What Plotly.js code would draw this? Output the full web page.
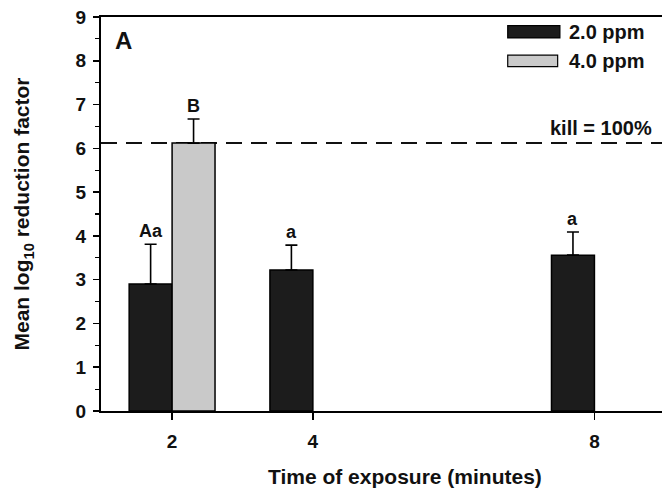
<!DOCTYPE html>
<html>
<head>
<meta charset="utf-8">
<script src="https://cdn.plot.ly/plotly-3.0.1.min.js"></script>
<style>html,body{margin:0;padding:0;overflow:hidden;background:#fff}#chart{width:662px;height:490px}</style>
</head>
<body>
<div id="chart"></div>
<script>
// Data
var times = [2, 4, 8];
var ppm2Values = [2.9, 3.22, 3.56];
var ppm2Errors = [0.91, 0.57, 0.53];
var ppm2Letters = ['Aa', 'a', 'a'];
var ppm4Times = [2];
var ppm4Values = [6.12];
var ppm4Errors = [0.55];
var ppm4Letters = ['B'];
var killLevel = 6.12;
var seriesNames = ['2.0 ppm', '4.0 ppm'];
var xTickVals = [2, 4, 8];
var yTickVals = [0, 1, 2, 3, 4, 5, 6, 7, 8, 9];

var barW = 0.61;
var fam = 'Liberation Sans, Arial, sans-serif';
function F(sz) { return {family: fam, size: sz, color: '#111', weight: 'bold'}; }

var traces = [
  {
    type: 'bar', name: seriesNames[0], x: times, y: ppm2Values,
    width: barW, offset: -barW,
    marker: {color: '#1c1c1c', line: {color: '#000', width: 1.5}},
    error_y: {type: 'data', array: ppm2Errors, arrayminus: ppm2Errors.map(function(){return 0;}), symmetric: false, color: '#000', thickness: 1.6, width: 6},
    textposition: 'none', showlegend: false
  },
  {
    type: 'bar', name: seriesNames[1], x: ppm4Times, y: ppm4Values,
    width: barW, offset: 0,
    marker: {color: '#c9c9c9', line: {color: '#000', width: 1.5}},
    error_y: {type: 'data', array: ppm4Errors, arrayminus: [0], symmetric: false, color: '#000', thickness: 1.6, width: 6},
    textposition: 'none', showlegend: false
  }
];

var annotations = [];
times.forEach(function(t, i) {
  annotations.push({x: t - barW / 2, y: ppm2Values[i] + ppm2Errors[i], xref: 'x', yref: 'y', text: ppm2Letters[i],
    showarrow: false, yanchor: 'bottom', yshift: 1, font: F(18)});
});
ppm4Times.forEach(function(t, i) {
  annotations.push({x: t + barW / 2, y: ppm4Values[i] + ppm4Errors[i], xref: 'x', yref: 'y', text: ppm4Letters[i],
    showarrow: false, yanchor: 'bottom', yshift: 1, font: F(18)});
});
annotations.push({x: 0.985, xref: 'paper', y: killLevel, yref: 'y', text: 'kill = 100%', showarrow: false,
  xanchor: 'right', yanchor: 'bottom', yshift: 2, font: F(20)});
annotations.push({x: 0.022, xref: 'paper', y: 0.98, yref: 'paper', text: 'A', showarrow: false,
  xanchor: 'left', yanchor: 'top', font: F(24)});
annotations.push({x: 0.542, xref: 'paper', y: -0.165, yref: 'paper', text: 'Time of exposure (minutes)', showarrow: false,
  xanchor: 'center', yanchor: 'middle', font: F(21)});
// legend text
annotations.push({x: 0.83, xref: 'paper', y: 0.962, yref: 'paper', text: seriesNames[0], showarrow: false,
  xanchor: 'left', yanchor: 'middle', font: F(20)});
annotations.push({x: 0.83, xref: 'paper', y: 0.888, yref: 'paper', text: seriesNames[1], showarrow: false,
  xanchor: 'left', yanchor: 'middle', font: F(20)});

var shapes = [
  {type: 'line', xref: 'paper', x0: 0, x1: 1, yref: 'y', y0: killLevel, y1: killLevel,
    line: {color: '#111', width: 2, dash: '16px,9px'}, layer: 'below'},
  {type: 'rect', xref: 'paper', yref: 'paper', x0: 0.725, x1: 0.818, y0: 0.947, y1: 0.978,
    fillcolor: '#1c1c1c', line: {color: '#000', width: 1.2}},
  {type: 'rect', xref: 'paper', yref: 'paper', x0: 0.725, x1: 0.814, y0: 0.874, y1: 0.903,
    fillcolor: '#cacaca', line: {color: '#000', width: 1.2}}
];

var layout = {
  width: 662, height: 490,
  margin: {l: 101, r: 0, t: 17, b: 79},
  paper_bgcolor: '#fff', plot_bgcolor: '#fff',
  barmode: 'overlay',
  showlegend: false,
  font: F(19),
  xaxis: {
    range: [0.99, 8.96], tickvals: xTickVals, ticktext: xTickVals.map(String),
    ticks: 'outside', ticklen: 7, tickwidth: 1.5, tickcolor: '#000',
    showline: true, linecolor: '#000', linewidth: 2, mirror: true,
    showgrid: false, zeroline: false, tickfont: F(19), ticklabelstandoff: 5
  },
  yaxis: {
    range: [0, 9], tickvals: yTickVals,
    ticks: 'outside', ticklen: 6, tickwidth: 1.5, tickcolor: '#000',
    minor: {dtick: 0.5, ticks: 'outside', ticklen: 4, tickwidth: 1.2, tickcolor: '#000', showgrid: false},
    showline: true, linecolor: '#000', linewidth: 2,
    showgrid: false, zeroline: false, tickfont: F(19), ticklabelstandoff: 3,
    title: {text: 'Mean log<sub>10</sub> reduction factor', font: F(21), standoff: 40}
  },
  annotations: annotations,
  shapes: shapes
};

Plotly.newPlot('chart', traces, layout, {displayModeBar: false, staticPlot: true});
</script>
</body>
</html>
